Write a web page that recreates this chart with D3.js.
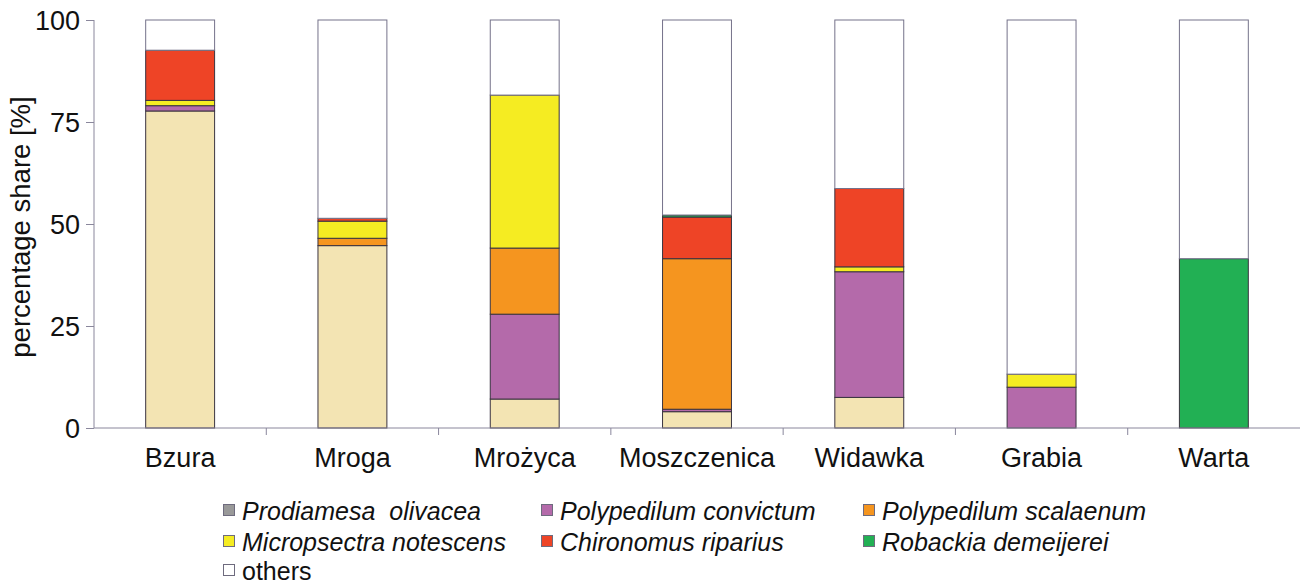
<!DOCTYPE html>
<html>
<head>
<meta charset="utf-8">
<script src="https://cdn.jsdelivr.net/npm/d3@7"></script>
<style>
  body { margin: 0; background: #fff; }
  svg { display: block; font-family: "Liberation Sans", Arial, sans-serif; }
</style>
</head>
<body>
<div id="chart"></div>
<script>
// rivers on the x axis
const rivers = ["Bzura", "Mroga", "Mrożyca", "Moszczenica", "Widawka", "Grabia", "Warta"]

// species, bottom of the stack first
const species = ["Prodiamesa  olivacea", "Polypedilum convictum", "Polypedilum scalaenum",
                 "Micropsectra notescens", "Chironomus riparius", "Robackia demeijerei", "others"]

// percentage share per river (same order as rivers)
const prodiamesa  = [77.7, 44.7,  7.1,  4.0,  7.5,  0.0,  0.0]
const convictum   = [ 1.3,  0.0, 20.8,  0.6, 30.8, 10.0,  0.0]
const scalaenum   = [ 0.0,  1.8, 16.2, 36.9,  0.0,  0.0,  0.0]
const notescens   = [ 1.3,  4.2, 37.5,  0.0,  1.2,  3.2,  0.0]
const riparius    = [12.3,  0.7,  0.0, 10.2, 19.2,  0.0,  0.0]
const demeijerei  = [ 0.0,  0.0,  0.0,  0.5,  0.0,  0.0, 41.5]
const others      = [ 7.4, 48.6, 18.4, 47.8, 41.3, 86.8, 58.5]

const yTicks = [0, 25, 50, 75, 100]

const barColors    = ["#f3e4b3", "#b46aaa", "#f5951f", "#f5ec22", "#ee4426", "#22b054", "#ffffff"]
const legendColors = ["#999999", "#b46aaa", "#f5951f", "#f5ec22", "#ee4426", "#22b054", "#ffffff"]

const width = 1306
const height = 583
const marginLeft = 94
const marginRight = 6
const marginTop = 20
const plotBottom = 428
const axisColor = "#8a879c"

const seriesValues = [prodiamesa, convictum, scalaenum, notescens, riparius, demeijerei, others]
const data = rivers.map((r, i) => {
    const row = { river: r }
    species.forEach((s, k) => { row[s] = seriesValues[k][i] })
    return row
})

const stack = d3.stack().keys(species)
const series = stack(data)

const x = d3.scaleBand()
    .domain(rivers)
    .range([marginLeft, width - marginRight])
    .paddingInner(0.6)
    .paddingOuter(0.3)

const y = d3.scaleLinear()
    .domain([0, 100])
    .range([plotBottom, marginTop])

const svg = d3.select("#chart")
    .append("svg")
    .attr("width", width)
    .attr("height", height)
    .attr("viewBox", [0, 0, width, height])

// bars
svg.append("g")
    .selectAll("g")
    .data(series)
    .join("g")
    .attr("fill", (d, i) => barColors[i])
    .attr("stroke", (d, i) => i === species.length - 1 ? "#75728a" : "#3a3340")
    .attr("stroke-width", 1)
    .selectAll("rect")
    .data(d => d.filter(p => p[1] - p[0] > 0))
    .join("rect")
    .attr("x", d => x(d.data.river))
    .attr("width", x.bandwidth())
    .attr("y", d => y(d[1]))
    .attr("height", d => y(d[0]) - y(d[1]))

// y axis
const yAxis = d3.axisLeft(y).tickValues(yTicks).tickSize(8).tickPadding(6)
svg.append("g")
    .attr("transform", `translate(${marginLeft},0)`)
    .call(yAxis)
    .call(g => g.select(".domain").attr("stroke", axisColor).attr("d", `M0,${marginTop}V${plotBottom}`))
    .call(g => g.selectAll(".tick line").attr("stroke", axisColor))
    .call(g => g.selectAll(".tick text")
        .attr("font-size", 27)
        .attr("fill", "#111")
        .attr("font-family", "Liberation Sans, Arial, sans-serif")
        .attr("dy", "0.36em"))

// x axis line and separator ticks
const bounds = d3.range(rivers.length + 1).map(i => marginLeft + i * x.step())
svg.append("line")
    .attr("x1", marginLeft).attr("x2", width - marginRight)
    .attr("y1", plotBottom).attr("y2", plotBottom)
    .attr("stroke", axisColor)
svg.append("g")
    .selectAll("line")
    .data(bounds.slice(1, -1))
    .join("line")
    .attr("x1", d => d).attr("x2", d => d)
    .attr("y1", plotBottom).attr("y2", plotBottom + 7)
    .attr("stroke", axisColor)

svg.append("g")
    .selectAll("text")
    .data(rivers)
    .join("text")
    .attr("x", d => x(d) + x.bandwidth() / 2)
    .attr("y", 467)
    .attr("text-anchor", "middle")
    .attr("font-size", 27)
    .attr("fill", "#111")
    .text(d => d)

// y label
svg.append("text")
    .attr("transform", `translate(30,${(marginTop + plotBottom) / 2 + 3}) rotate(-90)`)
    .attr("text-anchor", "middle")
    .attr("font-size", 27.5)
    .attr("fill", "#111")
    .text("percentage share [%]")

// legend
const legendCols = [223, 541, 863]
const legendRows = [511, 542, 571]
const legendOrder = [0, 1, 2, 3, 4, 5, 6]
const legend = svg.append("g")
    .selectAll("g")
    .data(legendOrder)
    .join("g")
    .attr("transform", (d, i) => `translate(${legendCols[i % 3]},${legendRows[Math.floor(i / 3)]})`)

legend.append("rect")
    .attr("x", 0.5).attr("y", -6.5)
    .attr("width", 11).attr("height", 11)
    .attr("fill", d => legendColors[d])
    .attr("stroke", "#6e6b7e")
    .attr("stroke-width", 1)

legend.append("text")
    .attr("x", 19)
    .attr("y", 8.5)
    .attr("font-size", 25)
    .attr("font-style", d => d === 6 ? "normal" : "italic")
    .attr("fill", "#111")
    .style("white-space", "pre")
    .text(d => species[d])
</script>
</body>
</html>
